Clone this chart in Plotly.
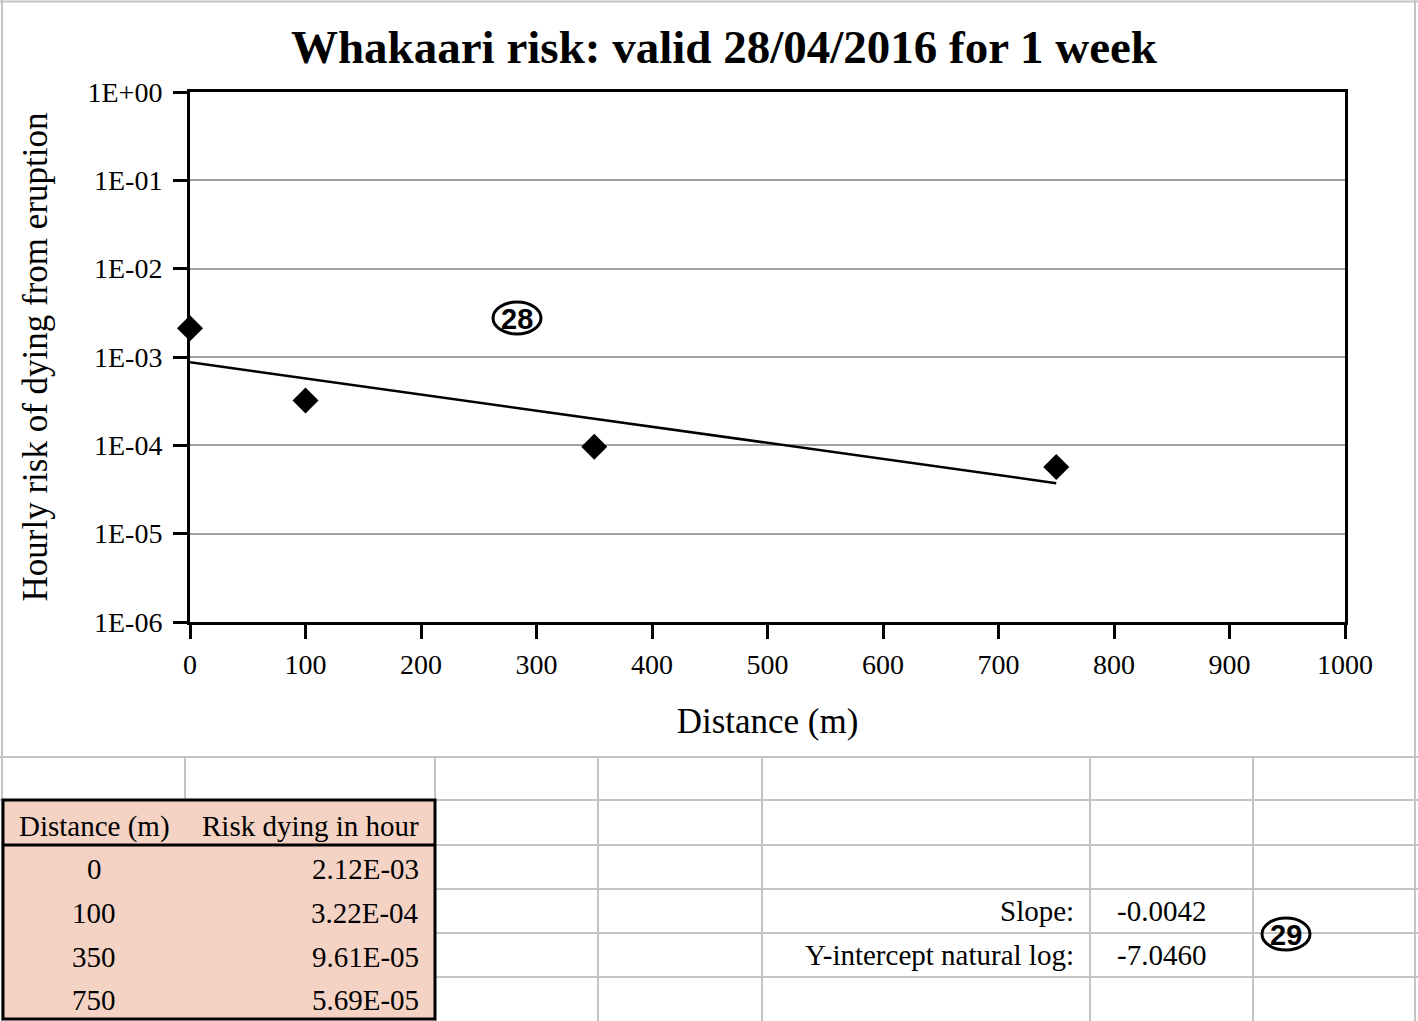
import numpy as np
import plotly.graph_objects as go

# ---- data ----
distance_m = [0, 100, 350, 750]
risk_per_hour = [2.12e-3, 3.22e-4, 9.61e-5, 5.69e-5]
risk_labels = ["2.12E-03", "3.22E-04", "9.61E-05", "5.69E-05"]
slope_fit = -0.0042
intercept_ln_fit = -7.0460
x_tickvals = [0, 100, 200, 300, 400, 500, 600, 700, 800, 900, 1000]
y_tickvals = [1e0, 1e-1, 1e-2, 1e-3, 1e-4, 1e-5, 1e-6]
y_ticktext = ["1E+00", "1E-01", "1E-02", "1E-03", "1E-04", "1E-05", "1E-06"]

W, H = 1418, 1021
L, R, T, B = 190, 1345, 92, 622
SERIF = "Liberation Serif, Times New Roman, serif"
SANS = "Liberation Sans, Arial, sans-serif"


def px(x):
    return (x - L) / (R - L)


def py(y):
    return (B - y) / (B - T)


trend_x = np.array([min(distance_m), max(distance_m)], dtype=float)
trend_y = np.exp(intercept_ln_fit + slope_fit * trend_x)

fig = go.Figure()
fig.add_trace(go.Scatter(x=trend_x, y=trend_y, mode="lines",
                         line=dict(color="black", width=2.5), showlegend=False))
fig.add_trace(go.Scatter(x=distance_m, y=risk_per_hour, mode="markers",
                         marker=dict(symbol="diamond", size=20, color="black"),
                         cliponaxis=False, showlegend=False))

shapes = []
GRID = "#C4C4C4"


def hline(y, x0, x1, color=GRID, w=2):
    shapes.append(dict(type="line", xref="paper", yref="paper", x0=px(x0), x1=px(x1),
                       y0=py(y), y1=py(y), line=dict(color=color, width=w), layer="below"))


def vline(x, y0, y1, color=GRID, w=2):
    shapes.append(dict(type="line", xref="paper", yref="paper", x0=px(x), x1=px(x),
                       y0=py(y0), y1=py(y1), line=dict(color=color, width=w), layer="below"))


# spreadsheet background grid
hline(1.5, 0, 1418)
vline(2, 0, 1021)
vline(1415, 0, 1021)
hline(757, 0, 1418)
hline(800, 0, 1418)
for yy in [845, 889, 933, 977]:
    hline(yy, 435, 1418)
vline(185, 757, 800)
for xx in [435, 598, 762, 1090, 1253]:
    vline(xx, 757, 1021)

# data table box
shapes.append(dict(type="rect", xref="paper", yref="paper", x0=px(3), x1=px(435),
                   y0=py(800), y1=py(1019), fillcolor="#F4D3C5",
                   line=dict(color="black", width=3), layer="below"))
shapes.append(dict(type="line", xref="paper", yref="paper", x0=px(3), x1=px(435),
                   y0=py(845), y1=py(845), line=dict(color="black", width=3), layer="below"))

# circled labels
for cx, cy in [(517, 318), (1286, 934)]:
    shapes.append(dict(type="circle", xref="paper", yref="paper", x0=px(cx - 24), x1=px(cx + 24),
                       y0=py(cy - 16), y1=py(cy + 16), line=dict(color="black", width=3)))

annotations = []


def txt(s, x, y, anchor="center", size=29, family=SERIF, bold=False):
    annotations.append(dict(text=("<b>%s</b>" % s) if bold else s, xref="paper", yref="paper",
                            x=px(x), y=py(y), xanchor=anchor, yanchor="middle", showarrow=False,
                            font=dict(family=family, size=size, color="black")))


txt("Distance (m)", 94, 826)
txt("Risk dying in hour", 421, 826, anchor="right")
row_y = [869, 913, 957, 1000]
for d, lab, yy in zip(distance_m, risk_labels, row_y):
    txt(str(d), 94, yy)
    txt(lab, 421, yy, anchor="right")

txt("Slope:", 1076, 911, anchor="right")
txt("Y-intercept natural log:", 1076, 955, anchor="right")
txt("%.4f" % slope_fit, 1208, 911, anchor="right")
txt("%.4f" % intercept_ln_fit, 1208, 955, anchor="right")

txt("28", 517, 319, size=29, family=SANS, bold=True)
txt("29", 1286, 935, size=29, family=SANS, bold=True)

fig.update_layout(
    width=W, height=H,
    margin=dict(l=L, r=W - R, t=T, b=H - B, pad=0),
    paper_bgcolor="white", plot_bgcolor="white",
    title=dict(text="<b>Whakaari risk: valid 28/04/2016 for 1 week</b>", x=724 / W,
               xanchor="center", y=1 - 47 / H, yanchor="middle", xref="container",
               yref="container",
               font=dict(family=SERIF, size=47, color="black")),
    xaxis=dict(range=[0, 1000], tickvals=x_tickvals, ticks="outside", ticklen=14, tickwidth=3,
               tickcolor="black", showline=True, linecolor="black", linewidth=3, mirror=True,
               showgrid=False, zeroline=False, ticklabelstandoff=1,
               tickfont=dict(family=SERIF, size=28, color="black"),
               title=dict(text="Distance (m)", font=dict(family=SERIF, size=35, color="black"),
                          standoff=30)),
    yaxis=dict(type="log", range=[-6, 0], tickvals=y_tickvals, ticktext=y_ticktext,
               ticks="outside", ticklen=14, tickwidth=3, tickcolor="black",
               showline=True, linecolor="black", linewidth=3, mirror=True,
               showgrid=True, gridcolor="#A0A0A0", gridwidth=1.5, zeroline=False,
               ticklabelstandoff=5,
               tickfont=dict(family=SERIF, size=28, color="black"),
               title=dict(text="Hourly risk of dying from eruption",
                          font=dict(family=SERIF, size=35, color="black"), standoff=30)),
    shapes=shapes,
    annotations=annotations,
    showlegend=False,
)

fig.write_html("out.html", config={"displayModeBar": False},
               post_script="document.body.style.margin='0';document.body.style.overflow='hidden';")
